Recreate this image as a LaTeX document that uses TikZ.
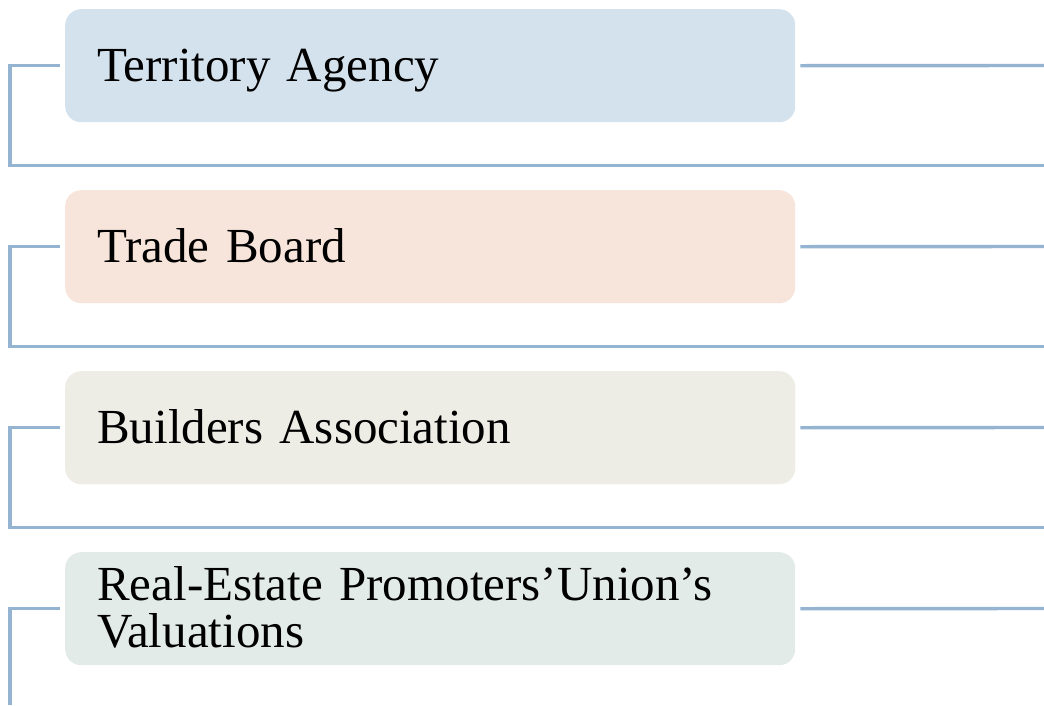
\documentclass[tikz,border=0pt]{standalone}
\usepackage{fontspec}
\setmainfont{Liberation Serif}
\definecolor{linkblue}{HTML}{95B4D2}
\definecolor{fillA}{HTML}{D4E2ED}
\definecolor{fillB}{HTML}{F7E4DA}
\definecolor{fillC}{HTML}{EDEDE5}
\definecolor{fillD}{HTML}{E3EBE8}
\tikzset{
  itembox/.style={rectangle, rounded corners=16pt, draw=none,
    minimum width=730pt, minimum height=113pt, text width=666pt,
    inner xsep=32pt, inner ysep=0pt, align=left,
    text height=40pt, text depth=9pt,
    font=\fontsize{49}{47}\selectfont, anchor=north west},
  link/.style={draw=linkblue, line width=3.4pt}
}
\begin{document}
\begin{tikzpicture}[x=1pt,y=-1pt]
\useasboundingbox (0,0) rectangle (1044,705);
\fill[white] (0,0) rectangle (1044,705);
\node[itembox, fill=fillA] (b1) at (65,9) {Territory Agency};
\node[itembox, fill=fillB] (b2) at (65,190) {Trade Board};
\node[itembox, fill=fillC] (b3) at (65,371) {Builders Association};
\node[itembox, fill=fillD, text depth=56pt] (b4) at (65,552) {Real-Estate Promoters’Union’s\\Valuations};
% left corner points and right ends
\coordinate (l1) at (10,165.5); \coordinate (r1) at (1044,165.5);
\coordinate (l2) at (10,346.5); \coordinate (r2) at (1044,346.5);
\coordinate (l3) at (10,527.5); \coordinate (r3) at (1044,527.5);
\coordinate (l4) at (10,705);
\coordinate (e1) at (1044,65.5);
\coordinate (e2) at (1044,246.5);
\coordinate (e3) at (1044,427.5);
\coordinate (e4) at (1044,608.5);
\draw[link] ([xshift=-5pt]b1.west) -| (l1) -- (r1);
\draw[link] ([xshift=-5pt]b2.west) -| (l2) -- (r2);
\draw[link] ([xshift=-5pt]b3.west) -| (l3) -- (r3);
\draw[link] ([xshift=-5pt]b4.west) -| (l4);
\draw[link] ([xshift=5pt]b1.east) -- (e1);
\draw[link] ([xshift=5pt]b2.east) -- (e2);
\draw[link] ([xshift=5pt]b3.east) -- (e3);
\draw[link] ([xshift=5pt]b4.east) -- (e4);
\end{tikzpicture}
\end{document}
